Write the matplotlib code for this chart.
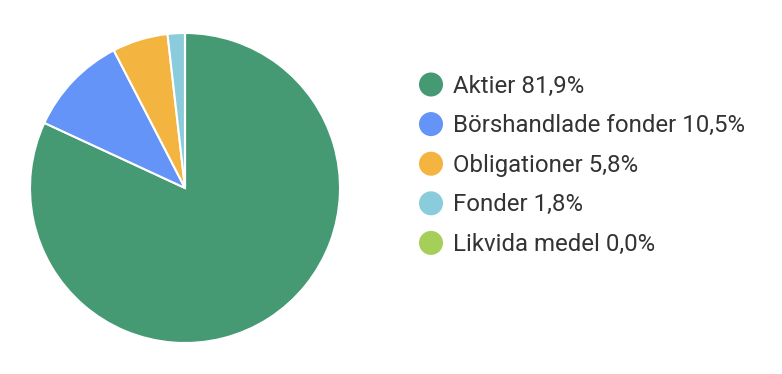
import matplotlib
matplotlib.use("Agg")
import matplotlib.pyplot as plt

plt.rcParams['font.family'] = ['Roboto', 'DejaVu Sans']

labels = ["Aktier", "Börshandlade fonder", "Obligationer", "Fonder", "Likvida medel"]
shares = [81.9, 10.5, 5.8, 1.8, 0.0]
colors = ['#459a74', '#6494f8', '#f4b440', '#8accdb', '#a5cf58']

W, H = 782, 374
fig = plt.figure(figsize=(W / 100, H / 100), dpi=100)

# pie, centre (185, 188) px, radius 155 px
cx, cy, r = 185, 188, 155
ax = fig.add_axes([(cx - r) / W, (H - cy - r) / H, 2 * r / W, 2 * r / H])
ax.pie(shares, colors=colors, startangle=90, counterclock=False, radius=1,
       wedgeprops=dict(edgecolor='white', linewidth=1.5))
ax.set_xlim(-1, 1)
ax.set_ylim(-1, 1)
ax.set_aspect('auto')
ax.axis('off')

# legend drawn by hand in pixel coordinates
lax = fig.add_axes([0, 0, 1, 1])
lax.set_xlim(0, W)
lax.set_ylim(H, 0)
lax.axis('off')
y0, step = 84.5, 39.6
for i, (lab, val, col) in enumerate(zip(labels, shares, colors)):
    y = y0 + i * step
    lax.scatter([431], [y], s=24 ** 2 * 0.52, color=col, edgecolor='none')
    txt = f"{lab} {val:.1f}%".replace('.', ',')
    lax.text(453, y + 1.5, txt, fontsize=17.3, color='#333333', va='center', ha='left')

fig.savefig("out.png", dpi=100)
